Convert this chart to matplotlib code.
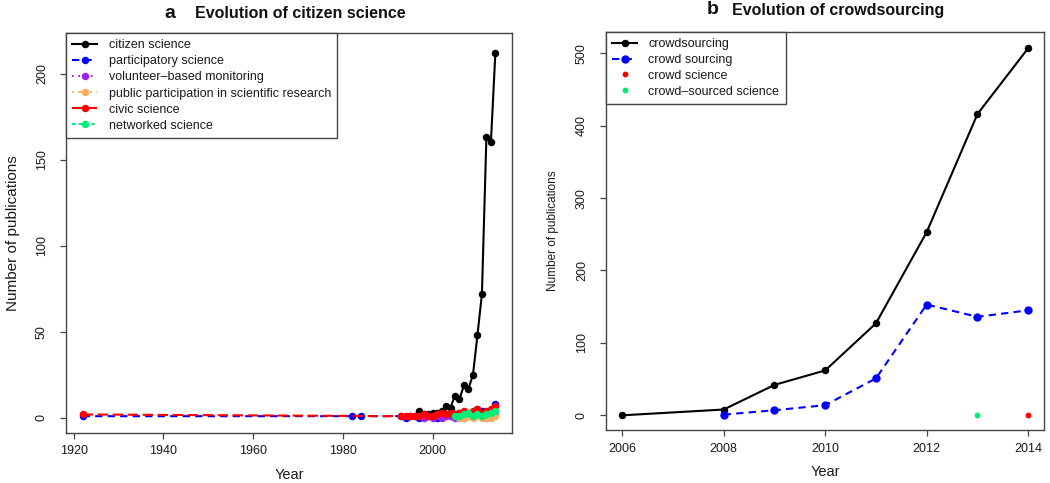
import matplotlib
matplotlib.use("Agg")
import matplotlib.pyplot as plt
from matplotlib.lines import Line2D

plt.rcParams['font.family'] = ['Liberation Sans', 'DejaVu Sans']

# ---------------- Panel a data ----------------
cs_years = list(range(1997, 2015))
cs_vals = [4, 2, 2, 3, 3, 4, 7, 6, 13, 11, 19, 17, 25, 48, 72, 163, 160, 212]

ps_years = [1922, 1982, 1984, 1993, 1994, 1995, 1996, 1997, 1998, 1999, 2000, 2001,
            2002, 2003, 2004, 2005, 2006, 2007, 2008, 2009, 2010, 2011, 2012, 2013, 2014]
ps_vals = [1, 1, 1, 1, 0, 1, 1, 0, 1, 1, 1, 0, 1, 2, 1, 2, 3, 1, 2, 3, 5, 4, 2, 3, 8]

vbm_years = list(range(1998, 2015))
vbm_vals = [0, 1, 0, 1, 0, 1, 1, 0, 1, 0, 1, 1, 2, 1, 0, 1, 2]

ppsr_years = list(range(2006, 2015))
ppsr_vals = [0, 0, 1, 0, 1, 0, 0, 0, 1]

civ_years = [1922] + list(range(1993, 2015))
civ_vals = [2, 1, 1, 1, 1, 1, 2, 1, 1, 2, 3, 2, 3, 2, 3, 4, 3, 4, 5, 3, 4, 5, 7]

net_years = list(range(2005, 2015))
net_vals = [1, 1, 2, 3, 1, 2, 1, 2, 3, 4]

labels_a = ["citizen science", "participatory science", "volunteer\u2013based monitoring",
            "public participation in scientific research", "civic science", "networked science"]
xticks_a = [1920, 1940, 1960, 1980, 2000]
yticks_a = [0, 50, 100, 150, 200]

# ---------------- Panel b data ----------------
crowd_years = [2006, 2008, 2009, 2010, 2011, 2012, 2013, 2014]
crowd_vals = [0, 8, 42, 62, 127, 253, 416, 507]
crowd2_years = [2008, 2009, 2010, 2011, 2012, 2013, 2014]
crowd2_vals = [1, 7, 14, 51, 153, 136, 145]
csci_years = [2014]
csci_vals = [0]
cssci_years = [2013]
cssci_vals = [0]

labels_b = ["crowdsourcing", "crowd sourcing", "crowd science", "crowd\u2013sourced science"]
xticks_b = [2006, 2008, 2010, 2012, 2014]
yticks_b = [0, 100, 200, 300, 400, 500]

# ---------------- styles ----------------
BLACK = "black"
BLUE = "#0000FF"
PURPLE = "#A020F0"
ORANGE = "#F8B060"
RED = "#FF0000"
GREEN = "#00EE76"

ls_dashed = (0, (3.5, 2.5))
ls_dotted = (0, (0.8, 2.2))
ls_dotdash = (0, (0.8, 2.2, 3.5, 2.2))
ls_longdash = (0, (5, 2.2))
ls_twodash = (0, (1.6, 1.6, 4.5, 1.6))

fig = plt.figure(figsize=(10.5, 4.83), dpi=100)

def style_axes(ax, xlabel_size, ylabel_size, ylx):
    for s in ax.spines.values():
        s.set_color("#444444")
        s.set_linewidth(1.0)
    ax.tick_params(axis='both', direction='out', length=4, width=0.9, color="#444444",
                   labelsize=9, labelcolor="#1a1a1a")
    ax.tick_params(axis='x', pad=5)
    ax.tick_params(axis='y', pad=9)
    for lab in ax.get_yticklabels():
        lab.set_rotation(90)
        lab.set_va('center')
    ax.set_xlabel("Year", fontsize=xlabel_size, color="#1a1a1a")
    ax.xaxis.set_label_coords(0.5, -0.105)
    ax.xaxis.label.set_va('center')
    ax.set_ylabel("Number of publications", fontsize=ylabel_size, color="#1a1a1a")
    ax.yaxis.set_label_coords(ylx, 0.5)
    ax.yaxis.label.set_va('center')

# ---------------- Panel a ----------------
axa = fig.add_axes([0.0629, 0.1041, 0.4247, 0.8276])
ms = 5.4
lw = 1.5
series_a = [
    (cs_years, cs_vals, BLACK, '-'),
    (ps_years, ps_vals, BLUE, ls_dashed),
    (vbm_years, vbm_vals, PURPLE, ls_dotted),
    (ppsr_years, ppsr_vals, ORANGE, ls_dotdash),
    (civ_years, civ_vals, RED, ls_longdash),
    (net_years, net_vals, GREEN, ls_twodash),
]
handles_a = []
for (xs, ys, c, ls), lab in zip(series_a, labels_a):
    axa.plot(xs, ys, color=c, linestyle=ls, linewidth=lw, marker='o', markersize=ms,
             markeredgewidth=0)
    handles_a.append(Line2D([], [], color=c, linestyle=ls, linewidth=lw, marker='o',
                            markersize=ms, markeredgewidth=0))
axa.set_xlim(1918.3, 2017.7)
axa.set_ylim(-8.6, 223.6)
axa.set_xticks(xticks_a)
axa.set_yticks(yticks_a)
style_axes(axa, 10.5, 11, -0.119)
leg = axa.legend(handles_a, labels_a, loc='upper left', bbox_to_anchor=(0, 1),
                 borderaxespad=0, fancybox=False, edgecolor="#444444", framealpha=1,
                 fontsize=9, handlelength=2.0, handletextpad=0.9, labelspacing=0.33,
                 borderpad=0.5, labelcolor="#1a1a1a")
leg.get_frame().set_linewidth(1.0)

# ---------------- Panel b ----------------
axb = fig.add_axes([0.5771, 0.1097, 0.4176, 0.8240])
axb.plot(crowd_years, crowd_vals, color=BLACK, linestyle='-', linewidth=lw, marker='o',
         markersize=ms, markeredgewidth=0)
axb.plot(crowd2_years, crowd2_vals, color=BLUE, linestyle=ls_dashed, linewidth=lw,
         marker='o', markersize=ms + 0.6, markeredgewidth=0)
axb.plot(csci_years, csci_vals, color=RED, linestyle='none', marker='o', markersize=4.2,
         markeredgewidth=0)
axb.plot(cssci_years, cssci_vals, color=GREEN, linestyle='none', marker='o', markersize=4.2,
         markeredgewidth=0)
handles_b = [
    Line2D([], [], color=BLACK, linestyle='-', linewidth=lw, marker='o', markersize=ms,
           markeredgewidth=0),
    Line2D([], [], color=BLUE, linestyle=ls_dashed, linewidth=lw, marker='o',
           markersize=ms + 0.6, markeredgewidth=0),
    Line2D([], [], color=RED, linestyle='none', marker='o', markersize=4.2, markeredgewidth=0),
    Line2D([], [], color=GREEN, linestyle='none', marker='o', markersize=4.2, markeredgewidth=0),
]
axb.set_xlim(2005.68, 2014.32)
axb.set_ylim(-20.3, 529.3)
axb.set_xticks(xticks_b)
axb.set_yticks(yticks_b)
style_axes(axb, 10.5, 8.5, -0.121)
legb = axb.legend(handles_b, labels_b, loc='upper left', bbox_to_anchor=(0, 1),
                  borderaxespad=0, fancybox=False, edgecolor="#444444", framealpha=1,
                  fontsize=9, handlelength=2.0, handletextpad=0.9, labelspacing=0.3,
                  borderpad=0.5, labelcolor="#1a1a1a")
legb.get_frame().set_linewidth(1.0)

# ---------------- titles ----------------
fig.text(170 / 1050, 1 - 13 / 483, "a", fontsize=14, fontweight='bold', ha='center',
         va='center', color="#111111")
fig.text(300 / 1050, 1 - 13 / 483, "Evolution of citizen science", fontsize=11.5,
         fontweight='bold', ha='center', va='center', color="#111111")
fig.text(713 / 1050, 1 - 10 / 483, "b", fontsize=14, fontweight='bold', ha='center',
         va='center', color="#111111")
fig.text(838 / 1050, 1 - 10 / 483, "Evolution of crowdsourcing", fontsize=11.5,
         fontweight='bold', ha='center', va='center', color="#111111")

fig.savefig("out.png", dpi=100)
